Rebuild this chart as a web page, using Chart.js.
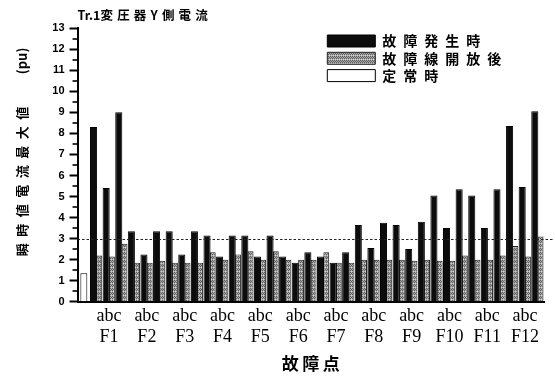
<!DOCTYPE html>
<html>
<head>
<meta charset="utf-8">
<script src="https://cdn.jsdelivr.net/npm/chart.js@4/dist/chart.umd.min.js"></script>
<style>
  html, body { margin: 0; padding: 0; background: #fff; }
  #wrap { width: 555px; height: 379px; }
</style>
</head>
<body>
<div id="wrap"><canvas id="chart" width="555" height="379"></canvas></div>
<script>
// Fault locations and phases
const faultPoints = ['F1', 'F2', 'F3', 'F4', 'F5', 'F6', 'F7', 'F8', 'F9', 'F10', 'F11', 'F12'];
const phases = ['a', 'b', 'c'];

// Peak instantaneous current at fault inception (pu), per phase
const faultA = [8.3, 3.35, 3.35, 3.15, 3.15, 2.15, 2.15, 3.65, 3.65, 5.05, 5.05, 8.35];
const faultB = [5.4, 2.25, 2.25, 2.15, 2.15, 1.85, 1.85, 2.55, 2.5, 3.5, 3.5, 5.45];
const faultC = [9.0, 3.35, 3.35, 3.15, 3.15, 2.35, 2.35, 3.75, 3.8, 5.35, 5.35, 9.05];

// Peak instantaneous current after the faulted line is opened (pu), per phase
const openA = [2.2, 1.85, 1.85, 2.35, 2.4, 2.0, 2.35, 2.0, 2.0, 1.95, 2.0, 2.65];
const openB = [2.15, 1.85, 1.85, 2.0, 2.0, 2.0, 1.85, 2.0, 1.95, 1.95, 2.0, 2.15];
const openC = [2.75, 1.95, 1.85, 2.25, 2.4, 2.0, 1.85, 2.0, 2.0, 2.2, 2.2, 3.1];

// Steady-state peak (pu)
const steadyPeak = 1.35;

// Reference level drawn as a dotted line
const threshold = 3;

const seriesNames = ['故障発生時', '故障線開放後', '定常時'];
const chartTitle = 'Tr.1変圧器Y側電流';
const yTitle = '瞬時値電流最大値';
const yUnit = '(pu)';
const xTitle = '故障点';

const CJK = '"Noto Sans CJK JP", "Noto Sans", sans-serif';
const SERIF = '"Liberation Serif", "DejaVu Serif", serif';
const SANS = '"Liberation Sans", Arial, sans-serif';

const spaced = (s, sep) => Array.from(s).join(sep);

// One category for the steady-state bar, then one per fault point and phase
const categories = ['定常'];
const faultSeries = [null];
const openSeries = [null];
const steadySeries = [steadyPeak];
faultPoints.forEach((f, g) => {
  const fv = [faultA[g], faultB[g], faultC[g]];
  const ov = [openA[g], openB[g], openC[g]];
  phases.forEach((p, k) => {
    categories.push(f + p);
    faultSeries.push(fv[k]);
    openSeries.push(ov[k]);
    steadySeries.push(null);
  });
});
const phaseOf = i => (i - 1) % phases.length;
const groupOf = i => Math.floor((i - 1) / phases.length);

// Cross-hatched grey fill
function hatchPattern() {
  const t = document.createElement('canvas');
  t.width = 4; t.height = 4;
  const g = t.getContext('2d');
  g.fillStyle = '#a9a9a9';
  g.fillRect(0, 0, 4, 4);
  g.fillStyle = '#5e5e5e';
  [[0, 0], [2, 0], [1, 1], [3, 1], [0, 2], [2, 2]].forEach(([x, y]) => g.fillRect(x, y, 1, 1));
  g.fillStyle = '#d0d0d0';
  [[1, 3], [3, 3]].forEach(([x, y]) => g.fillRect(x, y, 1, 1));
  return g.createPattern(t, 'repeat');
}

// Minor y ticks, dotted reference line, legend placement
const axisExtras = {
  id: 'axisExtras',
  afterLayout(chart) {
    const lg = chart.legend;
    if (!lg) return;
    const ca = chart.chartArea;
    const left = ca.right - 220;
    const top = ca.top + 2.5;
    const w = lg.width, h = lg.height;
    lg.left = left; lg.right = left + w;
    lg.top = top; lg.bottom = top + h;
  },
  afterDatasetsDraw(chart) {
    const { ctx, chartArea, scales: { y } } = chart;
    const yp = Math.round(y.getPixelForValue(threshold)) + 0.5;
    ctx.save();
    ctx.strokeStyle = '#222';
    ctx.lineWidth = 1;
    ctx.setLineDash([2.5, 2]);
    ctx.beginPath();
    ctx.moveTo(chartArea.left, yp);
    ctx.lineTo(chartArea.right + 9, yp);
    ctx.stroke();
    ctx.restore();
  },
  afterDraw(chart) {
    const { ctx, chartArea, scales: { y } } = chart;
    ctx.save();
    ctx.strokeStyle = '#000';
    ctx.lineWidth = 1.6;
    for (let v = 0.5; v < y.max; v += 1) {
      const yp = Math.round(y.getPixelForValue(v));
      ctx.beginPath();
      ctx.moveTo(chartArea.left - 5, yp);
      ctx.lineTo(chartArea.left, yp);
      ctx.stroke();
    }
    ctx.restore();
  }
};

const ctx = document.getElementById('chart').getContext('2d');
new Chart(ctx, {
  type: 'bar',
  data: {
    labels: categories,
    datasets: [
      {
        label: spaced(seriesNames[0], '\u2002'),
        data: faultSeries,
        backgroundColor: '#0c0c0c',
        borderColor: '#000',
        borderWidth: 1,
        barPercentage: 1.22,
        categoryPercentage: 0.92
      },
      {
        label: spaced(seriesNames[1], '\u2002'),
        data: openSeries,
        backgroundColor: hatchPattern(),
        borderColor: '#222',
        borderWidth: 1,
        barPercentage: 1.0,
        categoryPercentage: 0.92
      },
      {
        label: spaced(seriesNames[2], '\u2002'),
        data: steadySeries,
        backgroundColor: '#fff',
        borderColor: '#000',
        borderWidth: 1,
        barPercentage: 0.6,
        categoryPercentage: 0.92
      }
    ]
  },
  options: {
    responsive: false,
    animation: false,
    devicePixelRatio: 1,
    skipNull: true,
    layout: { padding: { left: 0, right: 11, top: 0, bottom: 0 } },
    plugins: {
      tooltip: { enabled: false },
      title: { display: false },
      legend: {
        display: true,
        position: 'chartArea',
        align: 'start',
        fullSize: false,
        labels: {
          boxWidth: 48,
          boxHeight: 12,
          padding: 3.3,
          color: '#000',
          font: { family: CJK, size: 14, weight: 'bold' }
        }
      }
    },
    scales: {
      xt: {
        type: 'category',
        labels: categories,
        position: 'top',
        offset: true,
        display: true,
        grid: { display: false, drawTicks: false },
        border: { display: false },
        ticks: { display: false },
        title: {
          display: true,
          text: 'Tr.1' + spaced(chartTitle.slice(4), '\u2004'),
          align: 'start',
          color: '#000',
          font: { family: CJK, size: 12.5, weight: 'bold' },
          padding: { top: 7.5, bottom: 5.7 }
        }
      },
      x: {
        position: 'bottom',
        grid: { display: false, drawTicks: false },
        border: { display: true, color: '#000', width: 2 },
        ticks: {
          autoSkip: false,
          maxRotation: 0,
          padding: 4.5,
          color: '#000',
          font: { family: SERIF, size: 18, lineHeight: 1.144 },
          callback: (v, i) => (i > 0 && phaseOf(i) === 1 ? [phases.join(''), faultPoints[groupOf(i)]] : '')
        },
        title: {
          display: true,
          text: spaced(xTitle, '\u2009'),
          color: '#000',
          font: { family: CJK, size: 17, weight: 'bold' },
          padding: { top: 1.9, bottom: 4.8 }
        }
      },
      y: {
        min: 0,
        max: 13,
        grid: { display: true, drawOnChartArea: false, drawTicks: true, tickLength: 8, tickWidth: 2, tickColor: '#000' },
        border: { display: true, color: '#000', width: 2 },
        ticks: {
          stepSize: 1,
          padding: 5,
          color: '#000',
          font: { family: SANS, size: 11, weight: 'bold' }
        },
        title: {
          display: true,
          align: 'end',
          text: spaced(yTitle, '\u2002') + '\u2003\u2003\u2002' + yUnit + '\u2003\u2002',
          color: '#000',
          font: { family: CJK, size: 13, weight: 'bold' },
          padding: { top: 14.7, bottom: 17 }
        }
      }
    }
  },
  plugins: [axisExtras]
});
</script>
</body>
</html>
